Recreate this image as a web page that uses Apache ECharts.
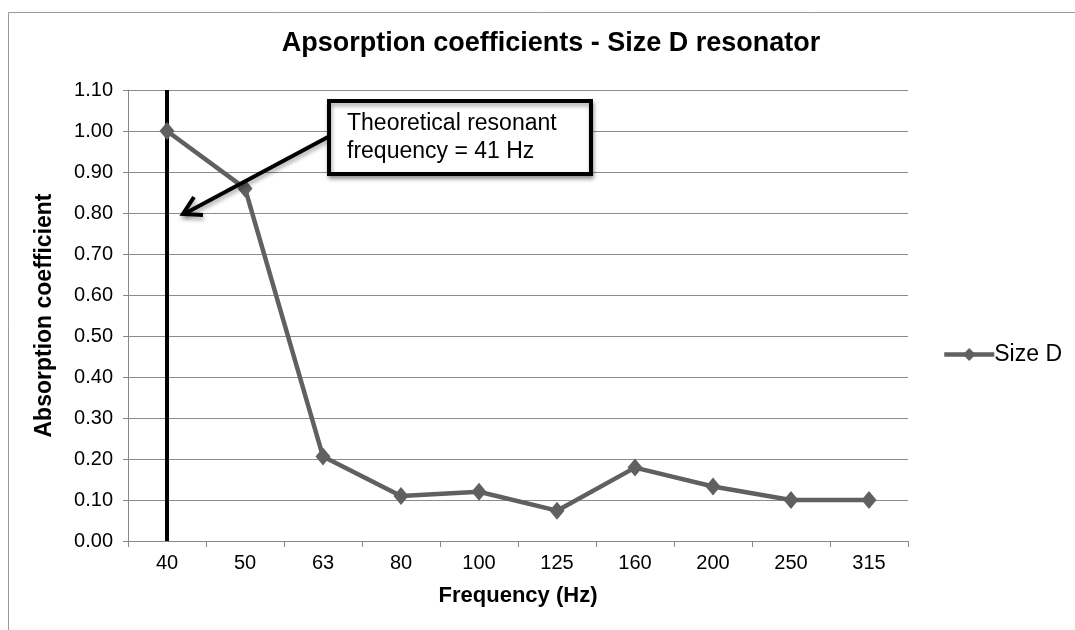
<!DOCTYPE html>
<html>
<head>
<meta charset="utf-8">
<script src="https://cdn.jsdelivr.net/npm/echarts@6/dist/echarts.min.js"></script>
<style>
  html, body { margin: 0; padding: 0; background: #fff; }
  #chart { width: 1075px; height: 630px; }
</style>
</head>
<body>
<div id="chart"></div>
<script>
// frequency bands
const frequencies = ['40', '50', '63', '80', '100', '125', '160', '200', '250', '315']
// absorption coefficient, size D
const sizeD = [1.00, 0.86, 0.206, 0.11, 0.12, 0.074, 0.179, 0.133, 0.10, 0.10]
const resonantBand = '40'

const chart = echarts.init(document.getElementById('chart'))
const font = 'Liberation Sans, Arial, sans-serif'
// soft shadow used by the annotation
const shadow = { shadowColor: 'rgba(0,0,0,0.35)', shadowBlur: 4, shadowOffsetX: 1, shadowOffsetY: 3 }

const option = {
  backgroundColor: '#fff',
  animation: false,
  title: {
    text: 'Apsorption coefficients - Size D resonator',
    left: 546,
    top: 25,
    textAlign: 'center',
    textStyle: { fontFamily: font, fontSize: 27, fontWeight: 'bold', color: '#000' }
  },
  legend: {
    left: 937,
    top: 338,
    itemWidth: 50,
    itemHeight: 16,
    itemGap: 2,
    lineStyle: { width: 4.5 },
    textStyle: { fontFamily: font, fontSize: 23, color: '#000', padding: [0, 0, 0, -5] },
    data: ['Size D']
  },
  grid: { left: 128, right: 167, top: 90, bottom: 89 },
  xAxis: {
    type: 'category',
    data: frequencies,
    name: 'Frequency (Hz)',
    nameLocation: 'middle',
    nameGap: 44,
    nameTextStyle: { fontFamily: font, fontSize: 22, fontWeight: 'bold', color: '#000' },
    axisLine: { lineStyle: { color: '#888', width: 1 } },
    axisTick: { show: true, alignWithLabel: false, length: 6, lineStyle: { color: '#888' } },
    axisLabel: { fontFamily: font, fontSize: 20, color: '#000', margin: 12 }
  },
  yAxis: {
    type: 'value',
    min: 0,
    max: 1.1,
    interval: 0.1,
    name: 'Absorption coefficient',
    nameLocation: 'middle',
    nameGap: 72,
    nameTextStyle: { fontFamily: font, fontSize: 23, fontWeight: 'bold', color: '#000' },
    axisLine: { show: true, lineStyle: { color: '#888', width: 1 } },
    axisTick: { show: true, length: 5, lineStyle: { color: '#888' } },
    axisLabel: {
      fontFamily: font, fontSize: 20, color: '#000', margin: 15,
      formatter: v => v.toFixed(2)
    },
    splitLine: { lineStyle: { color: '#8c8c8c', width: 1 } }
  },
  series: [
    {
      name: 'Size D',
      type: 'line',
      data: sizeD,
      color: '#606060',
      lineStyle: { width: 4.5, color: '#606060' },
      symbol: 'diamond',
      symbolSize: [15, 18],
      itemStyle: { color: '#606060' },
      z: 3,
      markLine: {
        silent: true,
        symbol: 'none',
        label: { show: false },
        lineStyle: { color: '#000', width: 4, type: 'solid' },
        data: [{ xAxis: resonantBand }],
        z: 2
      }
    }
  ],
  graphic: [
    // arrow from the box to the resonance line
    {
      type: 'line',
      z: 10,
      shape: { x1: 328, y1: 137, x2: 184, y2: 214 },
      style: Object.assign({ stroke: '#000', lineWidth: 4 }, shadow)
    },
    {
      type: 'polyline',
      z: 10,
      shape: { points: [[194, 197], [183, 214], [203, 215]] },
      style: Object.assign({ stroke: '#000', lineWidth: 4, fill: null, lineJoin: 'miter' }, shadow)
    },
    // annotation box
    {
      type: 'rect',
      z: 11,
      shape: { x: 329, y: 101, width: 262, height: 73 },
      style: Object.assign({ fill: '#fff', stroke: '#000', lineWidth: 4 }, shadow)
    },
    {
      type: 'text',
      z: 12,
      left: 347,
      top: 110,
      style: {
        text: 'Theoretical resonant\nfrequency = 41 Hz',
        font: '23px ' + font,
        lineHeight: 28,
        fill: '#000'
      }
    },
    // outer frame
    {
      type: 'rect',
      z: 0,
      shape: { x: 8.5, y: 12.5, width: 1075, height: 630 },
      style: { fill: null, stroke: '#9a9a9a', lineWidth: 1 }
    }
  ]
}

chart.setOption(option)
</script>
</body>
</html>
